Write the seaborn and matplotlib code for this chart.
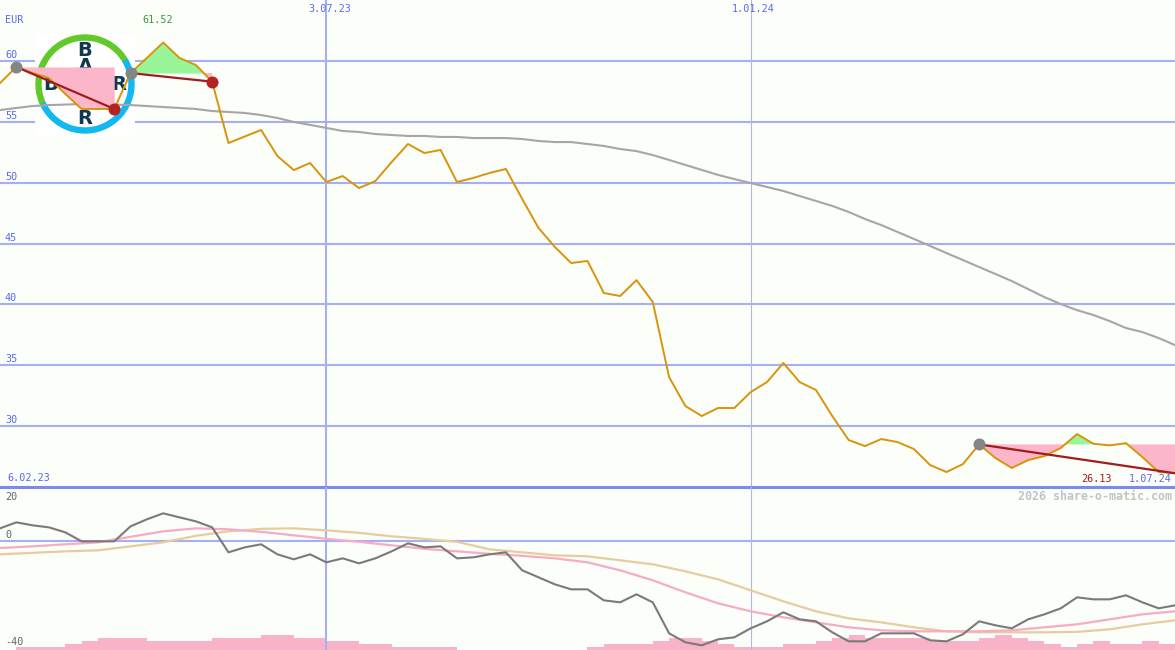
import matplotlib
matplotlib.use("Agg")
import matplotlib.pyplot as plt
import matplotlib.dates as mdates
from matplotlib.patches import Wedge, Rectangle
import seaborn as sns
import pandas as pd
import numpy as np

# weekly closes, EUR
weeks = pd.date_range("2023-02-13", periods=73, freq="7D")
price = [58.19, 59.51, 59.01, 58.60, 57.29, 56.06, 56.06, 56.06, 59.01, 60.25,
         61.52, 60.25, 59.67, 58.30, 53.26, 53.80, 54.33, 52.19, 51.04, 51.62,
         50.06, 50.55, 49.56, 50.14, 51.70, 53.18, 52.44, 52.69, 50.06, 50.39,
         50.80, 51.13, 48.66, 46.28, 44.72, 43.40, 43.57, 40.94, 40.69, 42.00,
         40.20, 34.03, 31.65, 30.83, 31.49, 31.49, 32.80, 33.62, 35.19, 33.62,
         32.97, 30.83, 28.86, 28.36, 28.94, 28.69, 28.12, 26.80, 26.23, 26.88,
         28.50, 27.38, 26.56, 27.21, 27.54, 28.20, 29.35, 28.55, 28.42, 28.60,
         27.46, 26.23, 26.13]
# long moving average
ma = [55.97, 56.14, 56.30, 56.38, 56.42, 56.47, 56.47, 56.42, 56.38, 56.30,
      56.22, 56.14, 56.06, 55.89, 55.81, 55.73, 55.56, 55.32, 54.99, 54.75,
      54.50, 54.25, 54.17, 54.00, 53.92, 53.84, 53.84, 53.76, 53.76, 53.67,
      53.67, 53.67, 53.59, 53.43, 53.34, 53.34, 53.18, 53.02, 52.77, 52.60,
      52.27, 51.87, 51.46, 51.05, 50.64, 50.30, 49.97, 49.65, 49.32, 48.91,
      48.50, 48.09, 47.60, 47.02, 46.52, 45.95, 45.38, 44.80, 44.22, 43.65,
      43.07, 42.50, 41.92, 41.26, 40.60, 40.03, 39.53, 39.13, 38.63, 38.06,
      37.73, 37.24, 36.66]
# lower panel oscillator (weekly) and its two averages (every 2nd week)
osc = [4.78, 6.99, 5.89, 5.15, 3.31, 0.00, 0.00, 0.00, 5.52, 8.10,
       10.31, 8.83, 7.36, 5.15, -4.05, -2.21, -1.10, -4.78, -6.62, -4.78,
       -7.73, -6.26, -8.10, -6.26, -3.68, -0.74, -2.21, -1.84, -6.26, -5.89,
       -4.78, -4.05, -10.67, -13.25, -15.83, -17.67, -17.67, -21.72, -22.45, -19.51,
       -22.45, -33.86, -37.17, -38.28, -36.07, -35.33, -32.02, -29.44, -26.13, -28.71,
       -29.44, -33.49, -36.81, -36.81, -33.86, -33.86, -33.86, -36.44, -36.81, -34.23,
       -29.44, -30.92, -32.02, -28.71, -26.87, -24.66, -20.61, -21.35, -21.35, -19.87,
       -22.45, -24.66, -23.56]
avg_fast = [-2.47, -1.84, -1.10, -0.37, 1.66, 3.68, 4.78, 4.42, 3.50, 2.21,
            0.92, -0.18, -1.47, -2.76, -3.68, -4.60, -5.34, -6.26, -7.73, -10.67,
            -14.35, -18.77, -22.82, -25.76, -27.97, -29.81, -31.65, -32.76, -33.12, -33.12,
            -33.12, -32.76, -31.65, -30.55, -28.71, -26.87, -25.76]
avg_slow = [-4.78, -4.23, -3.68, -3.31, -1.84, -0.37, 2.02, 3.68, 4.60, 4.78,
            4.05, 3.13, 1.84, 0.92, -0.18, -2.94, -4.05, -5.15, -5.52, -6.99,
            -8.46, -11.04, -13.99, -18.03, -22.08, -25.76, -28.34, -29.81, -31.65, -33.12,
            -33.49, -33.49, -33.49, -33.31, -32.39, -30.55, -29.08]
# volume steps per week
volume = [0, 1, 1, 1, 2, 3, 4, 4, 4, 3, 3, 3, 3, 4, 4, 4, 5, 5, 4, 4,
          3, 3, 2, 2, 1, 1, 1, 1, 0, 0, 0, 0, 0, 0, 0, 0, 1, 2, 2, 2,
          3, 4, 4, 3, 2, 1, 1, 1, 2, 2, 3, 4, 5, 4, 4, 4, 4, 3, 3, 3,
          4, 5, 4, 3, 2, 1, 2, 3, 2, 2, 3, 2]
price_levels = [30, 35, 40, 45, 50, 55, 60]
marked_dates = pd.to_datetime(["2023-07-03", "2024-01-01"])
first_label, last_label = "6.02.23", "1.07.24"
trends = [(1, 7), (8, 13), (60, 72)]

BG = "#fcfefa"
GRID = "#a4b0f2"
BLUE_TXT = "#5b69ee"
MONO = "DejaVu Sans Mono"
PX = 0.72  # points per pixel at 100 dpi

x = mdates.date2num(weeks)
p = np.array(price)

fig = plt.figure(figsize=(11.75, 6.5), dpi=100, facecolor=BG)
ax = fig.add_axes([0, 163 / 650, 1, 487 / 650])
axv = fig.add_axes([0, 0, 1, 163 / 650])
axo = axv.twinx()
for a in (ax, axv, axo):
    a.set_axis_off()
    a.set_xlim(x[0], x[-1])
ax.set_ylim(25, 60 + 61 / (426 / 35))
axv.set_ylim(0, 163 / 3)
axo.set_ylim(-40, 20)

# grid
for lv in price_levels:
    ax.axhline(lv, color=GRID, lw=1.5, zorder=1)
    ax.annotate(f"{lv}", xy=(0, lv), xycoords=("axes fraction", "data"),
                xytext=(5 * PX, 6 * PX), textcoords="offset points",
                va="center", ha="left", color=BLUE_TXT, fontsize=7.3, family=MONO)
ax.axhline(25, color="#7c8aea", lw=2.2, zorder=5, clip_on=False)
axo.axhline(0, color=GRID, lw=1.5, zorder=1)
for d, c, w in zip(marked_dates, [GRID, "#b3b8dc"], [1.5, 0.8]):
    dn = mdates.date2num(d)
    ax.axvline(dn, color=c, lw=w, zorder=1)
    axo.axvline(dn, color=c, lw=w, zorder=1)
    ax.annotate(f"{d.day}.{d:%m.%y}", xy=(dn, 1), xycoords=("data", "axes fraction"),
                xytext=(3 * PX, -9 * PX), textcoords="offset points",
                va="center", ha="center", color=BLUE_TXT, fontsize=7.3, family=MONO)

# logo
T = fig.dpi_scale_trans
ax.add_artist(Rectangle((0.35, (650 - 136) / 100), 1.0, 1.02, facecolor="white",
                        edgecolor="none", transform=T, zorder=1.5))
cx, cy = 0.85, (650 - 84) / 100
ax.add_artist(Wedge((cx, cy), 0.49, 30, 205, width=0.05, color="#62c92a", transform=T, zorder=1.6))
ax.add_artist(Wedge((cx, cy), 0.49, 205, 390, width=0.05, color="#12b8ef", transform=T, zorder=1.6))
for i, ch in enumerate("BAYER"):
    off = (i - 2) * 0.17
    ax.text(cx, cy - off, ch, transform=T, ha="center", va="center", fontsize=14,
            fontweight="bold", color="#10384f", zorder=1.7)
    if ch != "Y":
        ax.text(cx + off, cy, ch, transform=T, ha="center", va="center", fontsize=14,
                fontweight="bold", color="#10384f", zorder=1.7)

# main panel lines
sns.lineplot(x=x, y=ma, ax=ax, color="#a6a6a6", lw=1.5, zorder=2)
for s, e in trends:
    xs, ps, lv = x[s:e + 1], p[s:e + 1], p[s]
    ax.fill_between(xs, ps, lv, where=ps >= lv, interpolate=True, color="#98f698", lw=0, zorder=3)
    ax.fill_between(xs, ps, lv, where=ps <= lv, interpolate=True, color="#fbb6c9", lw=0, zorder=3)
sns.lineplot(x=x, y=p, ax=ax, color="#d8940a", lw=1.4, zorder=4)
for s, e in trends:
    ax.plot([x[s], x[e]], [p[s], p[e]], color="#a11d1d", lw=1.6, zorder=5, solid_capstyle="round")
    ax.scatter([x[s]], [p[s]], s=75, color="#858585", zorder=6, lw=0)
    if e < len(p) - 1:
        ax.scatter([x[e]], [p[e]], s=75, color="#b52222", zorder=6, lw=0)

imax = int(np.argmax(p))
ax.annotate(f"{p[imax]:.2f}", xy=(x[imax], 1), xycoords=("data", "axes fraction"),
            xytext=(-6 * PX, -20 * PX), textcoords="offset points", ha="center", va="center",
            color="#3a9a3a", fontsize=7.3, family=MONO)
ax.annotate(f"{p[-1]:.2f}", xy=(x[-1], 25), xycoords="data",
            xytext=(-63 * PX, 8 * PX), textcoords="offset points", ha="right", va="center",
            color="#a11d1d", fontsize=7.3, family=MONO)
ax.annotate(last_label, xy=(1, 25), xycoords=("axes fraction", "data"),
            xytext=(-3 * PX, 8 * PX), textcoords="offset points", ha="right", va="center",
            color=BLUE_TXT, fontsize=7.3, family=MONO)
ax.annotate(first_label, xy=(0, 25), xycoords=("axes fraction", "data"),
            xytext=(7 * PX, 9 * PX), textcoords="offset points", ha="left", va="center",
            color=BLUE_TXT, fontsize=7.3, family=MONO)
ax.annotate("EUR", xy=(0, 1), xycoords="axes fraction",
            xytext=(5 * PX, -20 * PX), textcoords="offset points", ha="left", va="center",
            color=BLUE_TXT, fontsize=7.3, family=MONO)

# lower panel
axv.bar(x[:-1], volume, width=np.diff(x), align="edge", color="#f9b3c8", lw=0)
sns.lineplot(x=x[::2], y=avg_slow, ax=axo, color="#e6cd9f", lw=1.6, zorder=2)
sns.lineplot(x=x[::2], y=avg_fast, ax=axo, color="#f7abc5", lw=1.6, zorder=3)
sns.lineplot(x=x, y=osc, ax=axo, color="#7a7a7a", lw=1.5, zorder=4)
for lv, dy in [(20, -10), (0, 6), (-40, 8)]:
    axo.annotate(f"{lv}", xy=(0, lv), xycoords=("axes fraction", "data"),
                 xytext=(5 * PX, dy * PX), textcoords="offset points", ha="left", va="center",
                 color="#666666", fontsize=7.3, family=MONO)

fig.text(1172 / 1175, 1 - 497 / 650, "2026 share-o-matic.com", ha="right", va="center",
         color="#c4c4c4", fontsize=8.4, family=MONO, fontweight="bold")

fig.savefig("out.png", dpi=100, facecolor=BG)
